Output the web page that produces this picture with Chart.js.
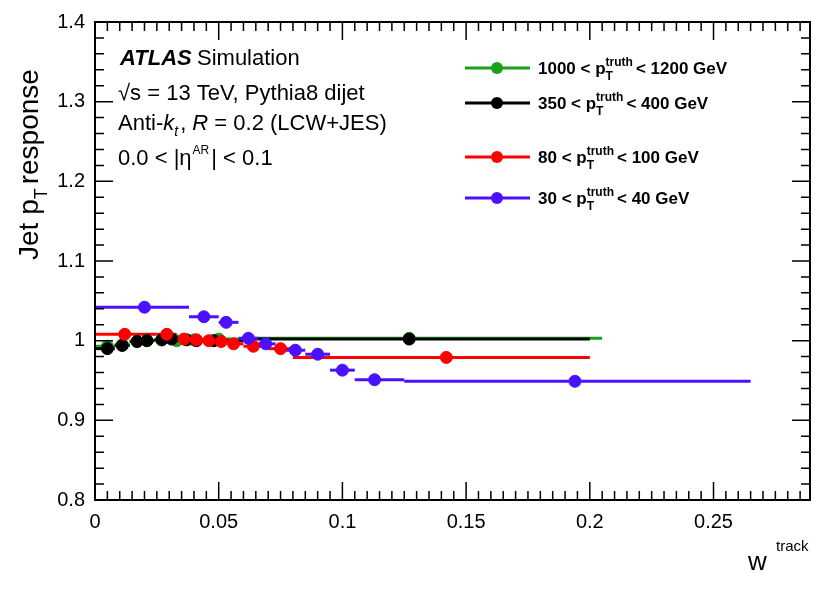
<!DOCTYPE html>
<html><head><meta charset="utf-8">
<script src="https://cdn.jsdelivr.net/npm/chart.js@4"></script>
<style>body{margin:0;background:#fff}#wrap{width:830px;height:596px;position:relative}</style>
</head><body><div id="wrap"><canvas id="c"></canvas></div>
<script>
"use strict";
// [x, y, xlow, xhigh]
const green = [[0.005,0.993,0,0.008],[0.011,0.995,0.008,0.014],[0.017,0.999,0.014,0.019],[0.021,1.0,0.019,0.024],[0.027,1.001,0.024,0.029],[0.033,1.0,0.029,0.036],[0.040,1.001,0.036,0.045],[0.050,1.002,0.045,0.06],[0.127,1.003,0.06,0.205]];
const black = [[0.005,0.990,0,0.008],[0.011,0.994,0.008,0.014],[0.017,0.999,0.014,0.019],[0.021,1.0,0.019,0.024],[0.027,1.001,0.024,0.029],[0.031,1.002,0.029,0.034],[0.037,1.001,0.034,0.04],[0.041,1.0,0.04,0.045],[0.048,1.0,0.045,0.06],[0.127,1.002,0.06,0.2]];
const red = [[0.012,1.008,0,0.025],[0.029,1.008,0.025,0.033],[0.036,1.002,0.033,0.039],[0.041,1.001,0.039,0.044],[0.046,1.0,0.044,0.049],[0.051,0.999,0.049,0.054],[0.056,0.996,0.054,0.06],[0.064,0.993,0.06,0.07],[0.075,0.990,0.07,0.08],[0.142,0.979,0.08,0.2]];
const blue = [[0.020,1.042,0,0.038],[0.044,1.030,0.038,0.05],[0.053,1.023,0.05,0.058],[0.062,1.003,0.058,0.066],[0.069,0.996,0.066,0.073],[0.081,0.988,0.073,0.085],[0.090,0.983,0.085,0.095],[0.100,0.963,0.095,0.105],[0.113,0.951,0.105,0.125],[0.194,0.949,0.125,0.265]];
const labels = ['1000 < p_T^truth < 1200 GeV','350 < p_T^truth < 400 GeV','80 < p_T^truth < 100 GeV','30 < p_T^truth < 40 GeV'];
const colors = ['#1aa11a','#000000','#ff0000','#4b10ff'];
const series = [green, black, red, blue];
const FONT = '"Liberation Sans", Arial';

const errBars = {
  id: 'errBars',
  beforeDatasetsDraw(chart) {
    const {ctx, scales: {x, y}} = chart;
    ctx.save();
    chart.data.datasets.forEach(ds => {
      ctx.strokeStyle = ds.borderColor; ctx.lineWidth = 3;
      ds.data.forEach(p => {
        ctx.beginPath();
        ctx.moveTo(x.getPixelForValue(p.lo), y.getPixelForValue(p.y));
        ctx.lineTo(x.getPixelForValue(p.hi), y.getPixelForValue(p.y));
        ctx.stroke();
      });
    });
    ctx.restore();
  },
  afterDraw(chart) {
    const {ctx, chartArea: a, scales: {x, y}} = chart;
    ctx.save();
    // frame and inward ticks
    ctx.strokeStyle = '#000'; ctx.lineWidth = 2;
    ctx.strokeRect(a.left, a.top, a.right - a.left, a.bottom - a.top);
    ctx.lineWidth = 1.5;
    for (let i = 0; i <= 58; i++) {
      const v = i * 0.005, px = x.getPixelForValue(v), len = i % 10 === 0 ? 18 : 9;
      if (px > a.right) break;
      ctx.beginPath(); ctx.moveTo(px, a.bottom); ctx.lineTo(px, a.bottom - len);
      ctx.moveTo(px, a.top); ctx.lineTo(px, a.top + len); ctx.stroke();
    }
    for (let i = 0; i <= 30; i++) {
      const v = 0.8 + i * 0.02, py = y.getPixelForValue(v), len = i % 5 === 0 ? 18 : 9;
      ctx.beginPath(); ctx.moveTo(a.left, py); ctx.lineTo(a.left + len, py);
      ctx.moveTo(a.right, py); ctx.lineTo(a.right - len, py); ctx.stroke();
    }
    ctx.fillStyle = '#000';
    ctx.font = 'italic bold 22px ' + FONT;
    ctx.fillText('ATLAS', 120, 65);
    ctx.font = '22px ' + FONT;
    ctx.fillText('Simulation', 197, 65);
    ctx.fillText('\u221As = 13 TeV, Pythia8 dijet', 118, 100);
    let t = 'Anti-';
    ctx.fillText(t, 118, 130);
    let w = 118 + ctx.measureText(t).width;
    ctx.font = 'italic 22px ' + FONT; ctx.fillText('k', w, 130);
    w += ctx.measureText('k').width;
    ctx.font = 'italic 14px ' + FONT; ctx.fillText('t', w, 136);
    w += ctx.measureText('t').width + 2;
    ctx.font = '22px ' + FONT; ctx.fillText(', ', w, 130);
    w += ctx.measureText(', ').width;
    ctx.font = 'italic 22px ' + FONT; ctx.fillText('R', w, 130);
    w += ctx.measureText('R').width;
    ctx.font = '22px ' + FONT; ctx.fillText(' = 0.2 (LCW+JES)', w, 130);
    t = '0.0 < |\u03b7';
    ctx.fillText(t, 118, 165);
    w = 118 + ctx.measureText(t).width;
    ctx.font = '12px ' + FONT; ctx.fillText('AR', w + 1, 154);
    w += ctx.measureText('AR').width + 3;
    ctx.font = '22px ' + FONT; ctx.fillText('| < 0.1', w, 165);
    // legend
    const ly = [68, 103, 157, 198];
    ['1000','350','80','30'].forEach((lo, i) => {
      const hi = ['1200','400','100','40'][i];
      ctx.strokeStyle = colors[i]; ctx.fillStyle = colors[i]; ctx.lineWidth = 3;
      ctx.beginPath(); ctx.moveTo(465, ly[i]); ctx.lineTo(530, ly[i]); ctx.stroke();
      ctx.beginPath(); ctx.arc(497, ly[i], 6, 0, Math.PI*2); ctx.fill();
      ctx.fillStyle = '#000';
      ctx.font = 'bold 17px ' + FONT;
      let s = lo + ' < p'; ctx.fillText(s, 538, ly[i] + 6);
      let ww = 538 + ctx.measureText(s).width;
      ctx.font = 'bold 12px ' + FONT;
      ctx.fillText('truth', ww, ly[i] - 2);
      ctx.fillText('T', ww, ly[i] + 12);
      ww += ctx.measureText('truth').width + 3;
      ctx.font = 'bold 17px ' + FONT;
      ctx.fillText('< ' + hi + ' GeV', ww, ly[i] + 6);
    });
    // axis titles
    ctx.font = '26px ' + FONT;
    ctx.fillText('w', 748, 570);
    ctx.font = '15px ' + FONT;
    ctx.fillText('track', 776, 551);
    ctx.translate(38, 260); ctx.rotate(-Math.PI/2);
    ctx.font = '28px ' + FONT;
    t = 'Jet p';
    ctx.fillText(t, 0, 0);
    w = ctx.measureText(t).width;
    ctx.font = '18px ' + FONT;
    ctx.fillText('T', w, 9);
    w += ctx.measureText('T').width + 4;
    ctx.font = '28px ' + FONT;
    ctx.fillText('response', w, 0);
    ctx.restore();
  }
};

new Chart(document.getElementById('c'), {
  type: 'scatter',
  data: {
    datasets: series.map((s, i) => ({
      label: labels[i],
      order: 4 - i,
      data: s.map(p => ({x: p[0], y: p[1], lo: p[2], hi: p[3]})),
      borderColor: colors[i], backgroundColor: colors[i],
      pointRadius: 6, pointHoverRadius: 6, showLine: false
    }))
  },
  options: {
    responsive: true, maintainAspectRatio: false, animation: false,
    layout: {padding: {left: 8, right: 20, top: 14, bottom: 52}},
    plugins: {legend: {display: false}, tooltip: {enabled: false}},
    scales: {
      x: {min: 0, max: 0.289, border: {color: '#000', width: 2},
        grid: {display: false, drawTicks: false},
        afterBuildTicks: s => { s.ticks = [0, 0.05, 0.1, 0.15, 0.2, 0.25].map(v => ({value: v})); },
        ticks: {color: '#000', padding: 10,
          font: {size: 20, family: FONT},
          callback: v => (Math.abs(v) < 1e-9 ? '0' : (+v.toFixed(2)).toString())}},
      y: {min: 0.8, max: 1.4, border: {color: '#000', width: 2},
        grid: {display: false, drawTicks: false},
        afterFit: s => { s.width = 87; },
        ticks: {stepSize: 0.1, color: '#000', padding: 10,
          font: {size: 20, family: FONT},
          callback: v => { const r = +v.toFixed(1); return r === 1 ? '1' : r.toFixed(1); }}}
    }
  },
  plugins: [errBars]
});
</script></body></html>
